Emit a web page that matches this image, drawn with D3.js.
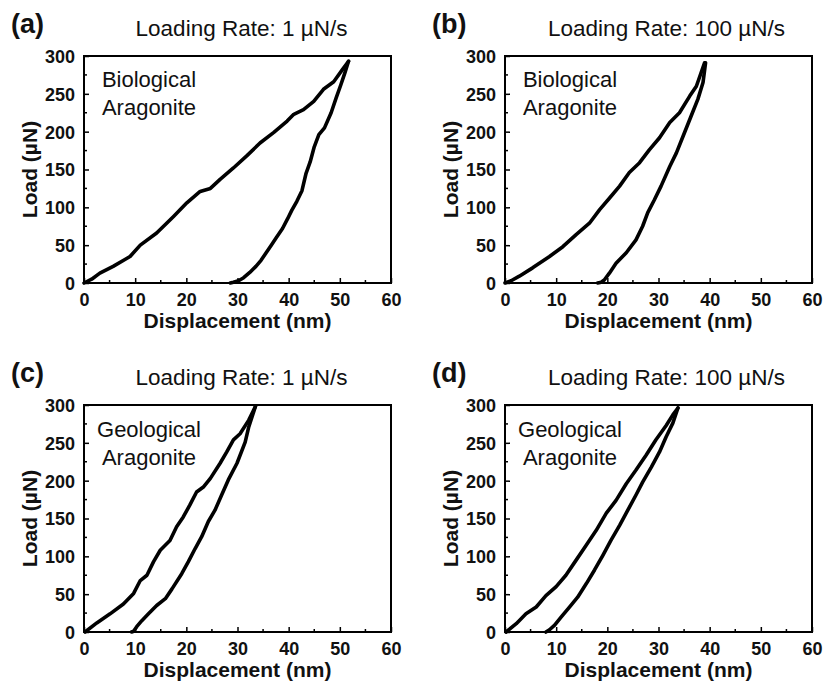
<!DOCTYPE html>
<html>
<head>
<meta charset="utf-8">
<script src="https://cdn.jsdelivr.net/npm/d3@7"></script>
<style>
  html, body { margin: 0; padding: 0; background: #fff; }
  svg { display: block; font-family: "Liberation Sans", Arial, sans-serif; }
</style>
</head>
<body>
<svg id="chart" width="824" height="686"></svg>
<script>
// ---- data (displacement nm, load µN) ----
const xTicks = [0, 10, 20, 30, 40, 50, 60];
const yTicks = [0, 50, 100, 150, 200, 250, 300];
const panelLetters = ["(a)", "(b)", "(c)", "(d)"];
const panelTitles = ["Loading Rate: 1 \u00B5N/s", "Loading Rate: 100 \u00B5N/s", "Loading Rate: 1 \u00B5N/s", "Loading Rate: 100 \u00B5N/s"];
const panelMaterials = [["Biological", "Aragonite"], ["Biological", "Aragonite"], ["Geological", "Aragonite"], ["Geological", "Aragonite"]];

const aLoad = [[0,0],[1.5,5],[3.1,13],[5.7,22],[8.0,31],[9.0,35],[11.0,50],[14.2,66],[17.5,88],[20.1,106],[22.7,121],[24.7,125],[26.6,137],[29.2,152],[31.8,168],[34.4,185],[37.1,199],[39.7,214],[41.0,223],[42.9,229],[44.9,240],[46.8,256],[48.8,266],[50.5,282],[51.7,293]];
const aUnload = [[51.7,293],[51.0,278],[50.2,262],[49.3,245],[48.3,225],[47.0,205],[45.9,196],[45.0,180],[44.2,160],[43.4,145],[42.6,122],[41.6,108],[40.6,96],[39.8,85],[38.8,72],[37.6,60],[36.6,50],[35.6,40],[34.6,30],[33.6,22],[32.4,14],[31.2,7],[30.2,3],[29.2,1],[28.6,0]];

const bLoad = [[0,0],[1.2,3],[2.8,9],[5.4,20],[8.7,35],[11.3,48],[13.9,64],[16.5,79],[18.5,97],[20.4,112],[22.4,128],[24.3,146],[26.3,159],[28.2,176],[30.2,192],[32.2,212],[34.1,225],[36.1,247],[37.4,260],[39.0,291]];
const bUnload = [[39.2,291],[38.7,265],[37.7,243],[36.4,221],[34.8,194],[33.5,172],[32.2,154],[30.5,128],[29.2,110],[27.9,93],[26.9,75],[25.6,57],[23.7,40],[21.7,26],[20.4,13],[19.4,4],[18.8,1],[18.1,0]];

const cLoad = [[0.2,0],[2.5,12],[5.1,24],[7.7,37],[9.7,51],[11.0,68],[12.3,75],[13.6,93],[14.9,108],[16.8,121],[18.1,139],[19.4,152],[20.7,168],[22.0,185],[23.4,192],[24.7,203],[26.6,223],[27.9,238],[29.2,254],[30.5,262],[32.2,280],[33.5,298]];
const cUnload = [[33.5,298],[32.2,271],[31.5,251],[29.9,223],[28.2,201],[26.9,181],[25.6,161],[24.3,146],[23.0,126],[21.7,110],[20.4,93],[19.1,77],[17.2,57],[15.9,44],[14.2,35],[12.6,24],[11.3,15],[10.3,7],[9.7,1],[9.3,0]];

const dLoad = [[0.2,0],[2.2,11],[4.1,24],[6.1,33],[8.0,48],[10.0,60],[11.9,75],[13.9,95],[15.9,115],[17.8,134],[19.8,157],[21.7,174],[23.7,196],[25.6,214],[27.6,234],[29.5,254],[31.5,273],[32.8,287],[33.8,296]];
const dUnload = [[33.8,296],[32.8,276],[31.5,258],[30.2,238],[28.6,218],[26.9,198],[25.6,181],[24.0,161],[22.4,141],[20.7,121],[19.1,101],[17.5,82],[15.9,64],[14.2,46],[12.6,33],[11.0,20],[9.7,9],[8.7,3],[8.0,0]];

const panelSeries = [[aLoad, aUnload], [bLoad, bUnload], [cLoad, cUnload], [dLoad, dUnload]];

// ---- layout ----
const svg = d3.select("#chart");
const plotW = 307, plotH = 227;
const origins = [[84, 56], [505, 56], [84, 405], [505, 405]];

panelSeries.forEach((series, i) => {
  const [ox, oy] = origins[i];
  const g = svg.append("g").attr("transform", `translate(${ox},${oy})`);
  const x = d3.scaleLinear().domain([0, 60]).range([0, plotW]);
  const y = d3.scaleLinear().domain([0, 300]).range([plotH, 0]);

  // curves
  const line = d3.line().x(d => x(d[0])).y(d => y(d[1]));
  series.forEach(s => {
    g.append("path").datum(s)
      .attr("d", line)
      .attr("fill", "none")
      .attr("stroke", "#000")
      .attr("stroke-width", 3.6)
      .attr("stroke-linejoin", "round")
      .attr("stroke-linecap", "round");
  });

  // minor ticks
  const xMinor = d3.range(5, 60, 10);
  const yMinor = d3.range(25, 300, 50);
  g.selectAll(".xminor").data(xMinor).enter().append("line")
    .attr("x1", d => x(d)).attr("x2", d => x(d))
    .attr("y1", plotH).attr("y2", plotH - 3)
    .attr("stroke", "#000").attr("stroke-width", 1.5);
  g.selectAll(".yminor").data(yMinor).enter().append("line")
    .attr("x1", 0).attr("x2", 3)
    .attr("y1", d => y(d)).attr("y2", d => y(d))
    .attr("stroke", "#000").attr("stroke-width", 1.5);

  // axes
  const xAxis = d3.axisBottom(x).tickValues(xTicks).tickSizeInner(-5).tickSizeOuter(0).tickPadding(10);
  const yAxis = d3.axisLeft(y).tickValues(yTicks).tickSizeInner(-5).tickSizeOuter(0).tickPadding(9);
  const gx = g.append("g").attr("transform", `translate(0,${plotH})`).call(xAxis);
  const gy = g.append("g").call(yAxis);
  [gx, gy].forEach(ax => {
    ax.select(".domain").remove();
    ax.selectAll(".tick line").attr("stroke", "#000").attr("stroke-width", 1.5);
    ax.selectAll(".tick text")
      .attr("fill", "#111")
      .style("font-family", "'Liberation Sans', Arial, sans-serif")
      .style("font-size", "18px")
      .style("font-weight", "bold");
  });
  gy.selectAll(".tick text").attr("dy", "0.36em");

  // frame
  g.append("rect")
    .attr("x", 0).attr("y", 0).attr("width", plotW).attr("height", plotH)
    .attr("fill", "none").attr("stroke", "#000").attr("stroke-width", 2);

  // axis titles
  g.append("text")
    .attr("x", plotW / 2).attr("y", plotH + 45)
    .attr("text-anchor", "middle")
    .style("font-size", "21px").style("font-weight", "bold").attr("fill", "#111")
    .text("Displacement (nm)");
  g.append("text")
    .attr("transform", `translate(-47,${plotH / 2}) rotate(-90)`)
    .attr("text-anchor", "middle")
    .style("font-size", "21px").style("font-weight", "bold").attr("fill", "#111")
    .text("Load (\u00B5N)");

  // material label
  const mat = g.append("text")
    .attr("text-anchor", "middle")
    .style("font-size", "22px").attr("fill", "#111");
  panelMaterials[i].forEach((t, k) => {
    mat.append("tspan").attr("x", 65).attr("y", (i < 2 ? 31 : 32) + k * 28).text(t);
  });

  // panel letter and title
  svg.append("text")
    .attr("x", ox - 73).attr("y", oy - 23)
    .style("font-size", "27px").style("font-weight", "bold").attr("fill", "#111")
    .text(panelLetters[i]);
  svg.append("text")
    .attr("x", ox + plotW / 2 + (i % 2 === 0 ? 4 : 8)).attr("y", oy - 20)
    .attr("text-anchor", "middle")
    .style("font-size", "22.5px").attr("fill", "#111")
    .text(panelTitles[i]);
});
</script>
</body>
</html>
